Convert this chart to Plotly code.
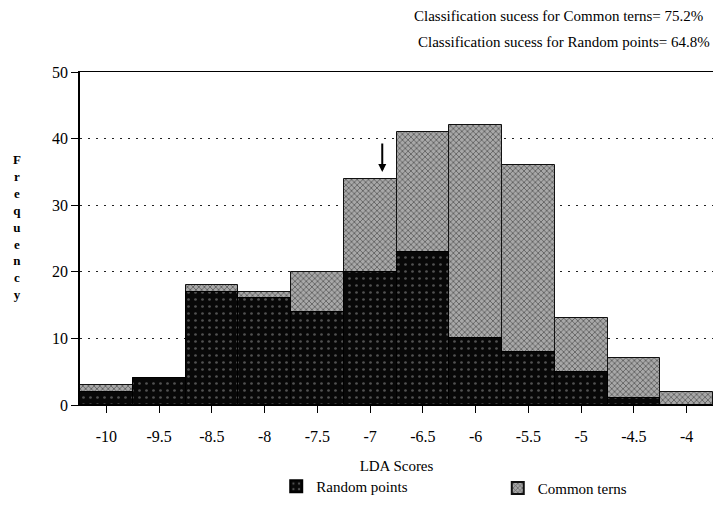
import plotly.graph_objects as go

categories = ["-10", "-9.5", "-8.5", "-8", "-7.5", "-7", "-6.5", "-6", "-5.5", "-5", "-4.5", "-4"]
common_terns = [3, 4, 18, 17, 20, 34, 41, 42, 36, 13, 7, 2]
random_points = [2, 4, 17, 16, 14, 20, 23, 10, 8, 5, 1, 0]
y_ticks = [0, 10, 20, 30, 40, 50]

FONT = "Liberation Serif"
pos = list(range(len(categories)))

fig = go.Figure()
fig.add_trace(go.Bar(
    x=pos, y=common_terns, name="Common terns", width=1.0, legend="legend2",
    marker=dict(color="#909090", line=dict(color="#111", width=1),
                pattern=dict(shape="x", fgcolor="#1a1a1a", bgcolor="#a8a8a8", size=4, solidity=0.4)),
))
fig.add_trace(go.Bar(
    x=pos, y=random_points, name="Random points", width=1.0, legend="legend",
    marker=dict(color="#0a0a0a", line=dict(color="#000", width=1),
                pattern=dict(shape=".", fgcolor="#9a9a9a", bgcolor="#080808", size=7, solidity=0.12)),
))

leg_common = dict(orientation="h", yanchor="middle", xanchor="left",
                  font=dict(family=FONT, size=15), itemsizing="constant", bgcolor="rgba(0,0,0,0)")

fig.update_layout(
    width=713, height=527,
    margin=dict(l=80, r=0, t=72, b=122),
    paper_bgcolor="white", plot_bgcolor="white",
    barmode="overlay", bargap=0,
    font=dict(family=FONT, size=14, color="black"),
    showlegend=True,
    legend=dict(x=0.31, y=-0.245, **leg_common),
    legend2=dict(x=0.66, y=-0.25, **leg_common),
    xaxis=dict(range=[-0.5, 11.5], tickmode="array", tickvals=pos, ticktext=categories,
               ticks="outside", ticklen=7, tickcolor="black", showgrid=False, zeroline=False,
               showline=True, mirror=True, linecolor="black", linewidth=1,
               ticklabelstandoff=10,
               tickfont=dict(family=FONT, size=16),
               title=dict(text="LDA Scores", font=dict(family=FONT, size=15), standoff=16)),
    yaxis=dict(range=[0, 50], tickmode="array", tickvals=y_ticks,
               ticks="outside", ticklen=7, tickcolor="black",
               showgrid=True, gridcolor="#222", griddash="2px,6px", gridwidth=1,
               zeroline=False, showline=True, linecolor="black", linewidth=1.5,
               tickfont=dict(family=FONT, size=16)),
)

fig.add_annotation(xref="paper", yref="paper", x=-0.1, y=0.535, showarrow=False,
                   text="<b>" + "<br>".join(list("Frequency")) + "</b>", font=dict(family=FONT, size=13),
                   xanchor="center", yanchor="middle")
fig.add_annotation(xref="paper", yref="paper", x=0.988, y=1.168, showarrow=False, xanchor="right", yanchor="middle",
                   text="Classification sucess for Common terns= 75.2%", font=dict(family=FONT, size=15))
fig.add_annotation(xref="paper", yref="paper", x=0.998, y=1.09, showarrow=False, xanchor="right", yanchor="middle",
                   text="Classification sucess for Random points= 64.8%", font=dict(family=FONT, size=15))
fig.add_annotation(x=5.23, y=35, ax=5.23, ay=39.5, xref="x", yref="y", axref="x", ayref="y",
                   showarrow=True, arrowhead=2, arrowwidth=2, arrowsize=0.8, arrowcolor="black", text="")

fig.write_html("out.html")
